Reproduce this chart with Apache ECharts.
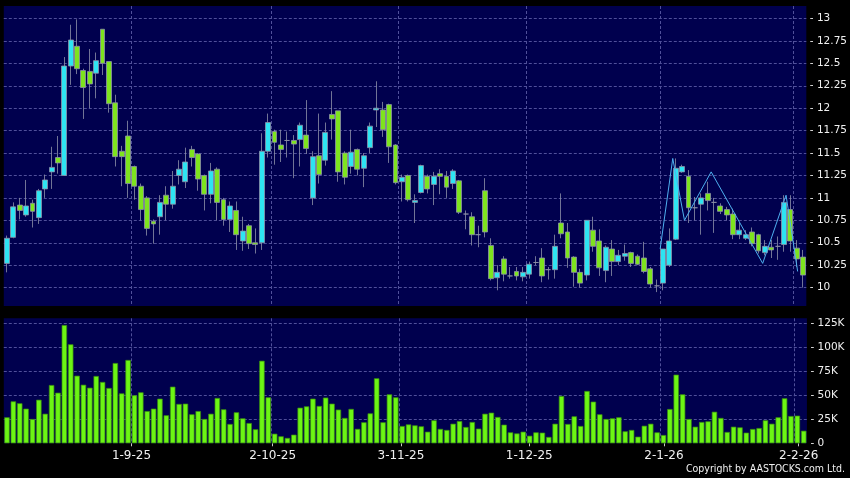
<!DOCTYPE html>
<html><head><meta charset="utf-8">
<script src="https://cdn.jsdelivr.net/npm/echarts@6/dist/echarts.min.js"></script>
<style>html,body{margin:0;padding:0;background:#000;}#c{width:850px;height:478px;}</style>
</head><body><div id="c"></div>
<script>
// ---- data ----
const opens = [10.27,10.56,10.92,10.81,10.94,10.78,11.10,11.29,11.45,11.25,
12.47,12.69,12.42,12.41,12.39,12.88,12.52,12.06,11.52,11.69,
11.35,11.13,11.00,10.74,10.79,11.03,10.93,11.25,11.18,11.54,
11.49,11.25,11.04,11.32,10.98,10.76,10.86,10.52,10.69,10.50,
10.50,11.52,11.74,11.59,11.64,11.64,11.65,11.70,11.00,11.47,
11.42,11.93,11.97,11.50,11.35,11.54,11.33,11.56,11.98,11.98,
12.04,11.59,11.18,11.25,10.95,11.06,11.24,11.15,11.27,11.24,
11.16,11.19,10.82,10.79,10.59,11.08,10.47,10.11,10.32,10.13,
10.18,10.12,10.15,10.28,10.33,10.20,10.20,10.72,10.62,10.34,
10.17,10.14,10.64,10.52,10.19,10.43,10.29,10.35,10.39,10.35,
10.33,10.21,10.02,10.05,10.25,10.54,11.29,11.24,10.89,10.93,
11.05,10.95,10.91,10.87,10.82,10.59,10.55,10.62,10.59,10.39,
10.45,10.46,10.48,10.87,10.44,10.34];
const closes = [10.55,10.90,10.86,10.91,10.85,11.08,11.20,11.34,11.39,12.47,
12.76,12.44,12.23,12.27,12.53,12.50,12.05,11.46,11.46,11.16,
11.13,10.87,10.66,10.71,10.95,10.93,11.13,11.32,11.40,11.45,
11.21,11.04,11.30,10.95,10.76,10.91,10.59,10.63,10.49,10.48,
11.52,11.84,11.62,11.54,11.64,11.60,11.81,11.55,11.46,11.26,
11.73,11.88,11.29,11.23,11.51,11.32,11.47,11.80,12.00,11.76,
11.57,11.17,11.23,10.98,10.97,11.36,11.10,11.24,11.24,11.12,
11.30,10.84,10.82,10.59,10.59,10.62,10.10,10.17,10.15,10.13,
10.13,10.17,10.26,10.28,10.13,10.20,10.46,10.60,10.33,10.17,
10.05,10.75,10.46,10.22,10.45,10.29,10.36,10.38,10.27,10.26,
10.18,10.04,10.02,10.43,10.52,11.33,11.35,10.89,10.89,11.00,
10.97,10.95,10.85,10.81,10.59,10.64,10.59,10.49,10.41,10.46,
10.42,10.46,10.95,10.52,10.32,10.14];
const lows = [10.17,10.55,10.76,10.79,10.67,10.71,11.00,11.10,11.27,11.25,
12.26,12.38,11.88,12.00,12.11,12.37,11.95,11.35,11.13,11.00,
10.98,10.75,10.58,10.49,10.59,10.75,10.88,11.15,11.11,11.35,
11.08,10.86,10.94,10.75,10.69,10.62,10.42,10.41,10.43,10.38,
10.42,11.45,11.37,11.40,11.45,11.22,11.35,11.49,10.92,11.16,
11.36,11.65,11.18,11.15,11.27,11.25,11.12,11.50,11.79,11.68,
11.39,11.15,10.96,10.96,10.72,11.05,11.05,10.92,11.04,11.00,
11.10,10.82,10.65,10.47,10.45,10.56,10.08,9.97,10.07,10.10,
10.08,10.07,10.10,10.25,10.06,10.09,10.10,10.55,10.22,10.01,
10.00,10.08,10.40,10.13,10.06,10.13,10.25,10.30,10.23,10.25,
10.16,10.00,9.95,9.97,10.23,10.53,11.28,10.72,10.75,10.59,
10.86,10.61,10.82,10.75,10.54,10.54,10.53,10.46,10.38,10.36,
10.33,10.31,10.40,10.40,10.23,10.00];
const highs = [10.58,10.95,11.00,11.20,10.98,11.10,11.26,11.57,11.69,12.57,
12.93,12.99,12.44,12.66,12.62,12.88,12.52,12.15,11.58,11.86,
11.36,11.16,11.02,10.76,11.03,11.13,11.30,11.42,11.56,11.58,
11.50,11.26,11.39,11.34,11.00,10.96,10.96,10.79,10.71,10.66,
11.72,11.94,11.76,11.76,11.74,11.70,11.84,12.09,11.52,11.94,
11.84,12.19,11.97,11.52,11.76,11.55,11.50,11.84,12.30,12.07,
12.05,11.60,11.26,11.26,11.04,11.37,11.26,11.29,11.32,11.30,
11.32,11.20,10.86,10.84,10.69,11.22,10.55,10.25,10.35,10.23,
10.23,10.23,10.29,10.35,10.44,10.23,10.59,11.05,10.72,10.35,
10.21,10.75,10.79,10.65,10.47,10.53,10.42,10.48,10.40,10.37,
10.51,10.23,10.09,10.43,10.66,11.44,11.37,11.31,11.01,11.05,
11.18,11.00,10.94,10.90,10.88,10.72,10.64,10.67,10.60,10.53,
10.53,10.57,11.03,11.03,10.53,10.42];
const volumesK = [27.1,43.7,41.7,36.1,25.3,45.4,30.8,60.7,52.7,123.2,
103.1,70.4,61.0,57.9,70.1,63.9,57.6,83.6,52.0,86.8,
50.0,53.1,33.6,36.1,46.5,29.2,59.0,41.0,41.3,30.2,
33.6,25.3,30.8,47.2,35.4,20.1,32.3,26.0,21.1,14.6,
86.0,47.9,10.0,7.3,5.6,9.0,37.1,38.5,46.5,38.9,
47.6,41.3,35.1,26.4,35.8,15.0,21.9,31.2,67.7,21.9,
51.0,47.9,18.0,19.7,18.7,17.7,12.1,24.0,15.0,13.9,
20.4,23.2,17.0,22.2,15.3,30.8,31.9,27.4,19.4,11.4,
10.3,12.1,7.9,11.4,11.1,6.6,20.4,49.3,20.1,28.1,
18.0,54.5,43.4,30.2,25.3,26.0,27.1,12.5,13.9,6.9,
18.3,20.4,11.4,8.6,35.7,71.5,51.0,25.3,17.3,22.2,
22.9,32.9,26.4,11.8,17.3,16.6,11.1,14.9,15.9,24.0,
20.4,27.1,46.9,28.4,28.8,13.1];
// zigzag overlay: positions in bar-index units and price
const zigzagPos = [102.55,104.53,106.37,110.56,118.65,122.32,124.14];
const zigzagVal = [10.43,11.44,10.75,11.29,10.27,11.03,10.18];
// x-axis month-start labels
const tickLabels = ['1-9-25','2-10-25','3-11-25','1-12-25','2-1-26','2-2-26'];
const tickIndex = [20,42,62,82,103,124];
// y-axis ranges
const priceMin = 9.795, priceMax = 13.139, priceStep = 0.25;
const volMaxK = 130.2, volStepK = 25;

// ---- chart ----
const N = opens.length;
const categories = opens.map((_, i) => String(i));
const boundaries = Array.from({length: N + 1}, (_, i) => String(i));
const NAVY = '#00004e';
const FONT = 'DejaVu Sans';
const gridLine = {color: '#50509a', width: 1, type: [3, 2]};
const isTick = (i) => tickIndex.indexOf(i) >= 0;

const chart = echarts.init(document.getElementById('c'), null, {renderer: 'canvas'});
chart.setOption({
  backgroundColor: '#000000',
  animation: false,
  grid: [
    {left: 3.8, right: 43.1, top: 6, height: 300, show: true, backgroundColor: NAVY, borderWidth: 0},
    {left: 3.8, right: 43.1, top: 318.3, height: 125, show: true, backgroundColor: NAVY, borderWidth: 0},
    {left: -3.837, width: 812.13, top: 318.3, height: 125, show: false}
  ],
  xAxis: [
    {type: 'category', gridIndex: 0, data: categories, boundaryGap: true, show: false},
    {type: 'value', gridIndex: 0, min: -0.5, max: N - 0.5, show: false},
    {type: 'category', gridIndex: 0, data: boundaries, boundaryGap: false,
      axisLine: {show: false}, axisTick: {show: false}, axisLabel: {show: false},
      splitLine: {show: true, interval: isTick, lineStyle: gridLine}},
    {type: 'category', gridIndex: 1, data: categories, boundaryGap: true, show: false},
    {type: 'category', gridIndex: 1, data: boundaries, boundaryGap: false,
      axisLine: {show: false}, axisTick: {show: false}, axisLabel: {show: false},
      splitLine: {show: true, interval: isTick, lineStyle: gridLine}},
    {type: 'category', gridIndex: 2, data: categories, boundaryGap: true, offset: 3,
      axisLine: {show: false},
      axisTick: {show: true, alignWithLabel: true, interval: isTick, length: 3, lineStyle: {color: '#c8c8c8'}},
      axisLabel: {interval: isTick, color: '#f0f0f0', fontSize: 12, fontFamily: FONT, margin: 4,
        formatter: (v, i) => tickLabels[tickIndex.indexOf(Number(v))] || ''},
      splitLine: {show: false}}
  ],
  yAxis: [
    {type: 'value', gridIndex: 0, position: 'right', min: priceMin, max: priceMax,
      minInterval: priceStep, maxInterval: priceStep,
      axisLine: {show: false}, axisTick: {show: false},
      axisLabel: {showMinLabel: false, showMaxLabel: false, color: '#f0f0f0', fontSize: 10.5, fontFamily: FONT, margin: 3.5,
        formatter: v => '- ' + v},
      splitLine: {show: true, showMinLine: false, showMaxLine: false, lineStyle: gridLine}},
    {type: 'value', gridIndex: 1, position: 'right', min: 0, max: volMaxK,
      minInterval: volStepK, maxInterval: volStepK,
      axisLine: {show: false}, axisTick: {show: false},
      axisLabel: {showMinLabel: true, showMaxLabel: false, color: '#f0f0f0', fontSize: 10.5, fontFamily: FONT, margin: 3.5,
        formatter: v => '- ' + (v === 0 ? '0' : v + 'K')},
      splitLine: {show: true, showMinLine: false, showMaxLine: false, lineStyle: gridLine}},
    {type: 'value', gridIndex: 2, show: false}
  ],
  series: [
    {type: 'candlestick', xAxisIndex: 0, yAxisIndex: 0, barWidth: 5.4, barMinWidth: 5,
      data: opens.map((o, i) => [o, closes[i], lows[i], highs[i]]),
      itemStyle: {color: '#2ee4f2', color0: '#7ee41e', borderColor: '#8e92a8', borderColor0: '#8e92a8', borderWidth: 0.8}},
    {type: 'line', xAxisIndex: 1, yAxisIndex: 0, symbol: 'none',
      data: zigzagPos.map((p, i) => [p, zigzagVal[i]]),
      lineStyle: {color: '#4eb0f0', width: 1}},
    {type: 'bar', xAxisIndex: 3, yAxisIndex: 1, barWidth: 5.4,
      data: volumesK,
      itemStyle: {color: '#6cf514', borderColor: '#3a8c10', borderWidth: 0.7}}
  ],
  graphic: [
    {type: 'text', right: 5, top: 464,
      style: {text: 'Copyright by AASTOCKS.com Ltd.', fill: '#f0f0f0', font: '10.5px "DejaVu Sans Condensed", "DejaVu Sans"'}}
  ]
});
</script>
</body></html>
